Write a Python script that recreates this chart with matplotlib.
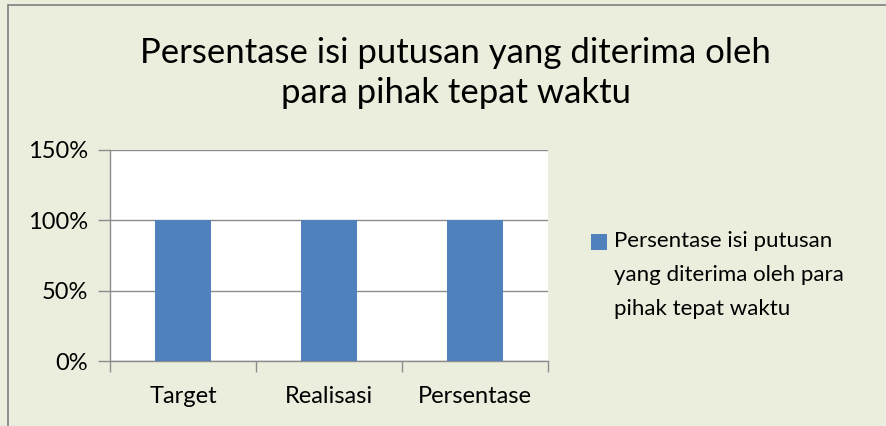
import matplotlib.pyplot as plt
from matplotlib.patches import Rectangle
from matplotlib.ticker import FuncFormatter

categories = ['Target', 'Realisasi', 'Persentase']
values = [1.0, 1.0, 1.0]
series_name = 'Persentase isi putusan\nyang diterima oleh para\npihak tepat waktu'
title = 'Persentase isi putusan yang diterima oleh\npara pihak tepat waktu'

BG = '#EBEEDD'
BAR = '#4F81BD'
GRID = '#8C8C8C'

plt.rcParams['font.family'] = ['Lato', 'DejaVu Sans']

fig = plt.figure(figsize=(8.87, 4.26), dpi=100, facecolor=BG)
fig.patches.append(Rectangle((8 / 887, -0.01), 1.0, 1.0 - 5 / 426 + 0.01,
                             transform=fig.transFigure, fill=False,
                             edgecolor='#808080', linewidth=1.2))

ax = fig.add_axes([110 / 887, 1 - 361 / 426, (548 - 110) / 887, (361 - 150) / 426])
ax.set_facecolor('white')

x = list(range(len(categories)))
ax.bar(x, values, width=0.39, color=BAR, zorder=3)

ax.set_xlim(-0.5, len(categories) - 0.5)
ax.set_ylim(0, 1.5)
ax.set_yticks([0, 0.5, 1.0, 1.5])
ax.yaxis.set_major_formatter(FuncFormatter(lambda v, p: f'{v * 100:.0f}%'))
ax.grid(axis='y', color=GRID, linewidth=1.0, zorder=0)

ax.set_xticks(x)
ax.set_xticklabels(categories)
ax.set_xticks([-0.5, 0.5, 1.5, 2.5], minor=True)
ax.tick_params(axis='x', which='major', length=0, pad=18, labelsize=17)
ax.tick_params(axis='x', which='minor', length=8, color=GRID, width=1.0)
ax.tick_params(axis='y', length=9, color=GRID, width=1.0, pad=7, labelsize=17)

for side in ['top', 'right']:
    ax.spines[side].set_visible(False)
for side in ['left', 'bottom']:
    ax.spines[side].set_color(GRID)
    ax.spines[side].set_linewidth(1.0)

fig.text(0.514, 1 - 73 / 426, title, ha='center', va='center',
         fontsize=25, linespacing=1.33)

# legend: square key aligned with the first line of the wrapped label
fig.patches.append(Rectangle((591 / 887, 1 - 250 / 426), 16 / 887, 16 / 426,
                             transform=fig.transFigure, facecolor=BAR,
                             edgecolor='none'))
fig.text(614 / 887, 1 - 231 / 426, series_name, ha='left', va='top',
         fontsize=16, linespacing=1.88)

fig.savefig('out.png', dpi=100, facecolor=BG)
